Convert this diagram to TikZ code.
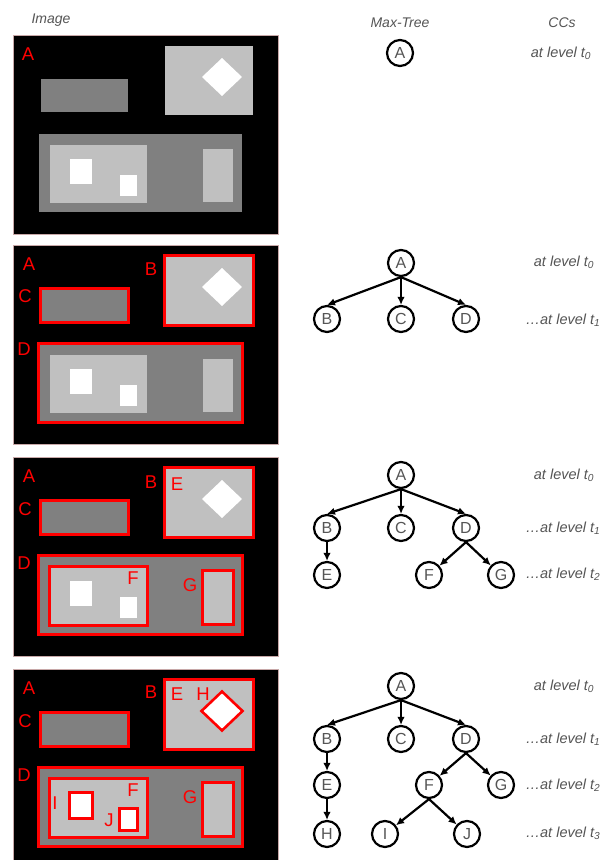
\documentclass[tikz,border=0pt]{standalone}
\usepackage{fontspec}
\setmainfont{Liberation Sans}
\usetikzlibrary{arrows.meta}
\definecolor{dgray}{HTML}{808080}
\definecolor{lgray}{HTML}{C0C0C0}
\definecolor{txtgray}{HTML}{555555}
\definecolor{framecol}{HTML}{C8A8A8}
\definecolor{cred}{HTML}{FF0000}
\tikzset{
 panel/.style={fill=black, draw=framecol, line width=0.8pt},
 dg/.style={fill=dgray},
 lg/.style={fill=lgray},
 wh/.style={fill=white},
 redline/.style={draw=cred, line width=2.6pt},
 plabel/.style={text=cred, font=\fontsize{18.5}{18.5}\selectfont, inner sep=0pt},
 tnode/.style={circle, draw=black, line width=2.2pt, minimum size=26pt, inner sep=0pt, text=txtgray, font=\fontsize{16}{16}\selectfont, fill=white},
 edge/.style={-{Latex[length=8pt,width=7.5pt]}, line width=2.2pt},
 header/.style={text=txtgray, font=\fontsize{14}{14}\selectfont\itshape, inner sep=0pt},
 levellab/.style={text=txtgray, font=\fontsize{14.5}{14.5}\selectfont\itshape, inner sep=0pt},
}
\newcommand{\baseimage}{%
 \draw[panel] (13.5,0) rectangle (278.5,199);
 \fill[dg] (41,44) rectangle (128,77);
 \fill[lg] (165,11) rectangle (253,80);
 \fill[wh] (222,23) -- (242,42) -- (222,61) -- (202,42) -- cycle;
 \fill[dg] (39,99) rectangle (242,177);
 \fill[lg] (50,110) rectangle (147,168);
 \fill[wh] (70,124) rectangle (92,149);
 \fill[wh] (120,140) rectangle (137,161);
 \fill[lg] (203,114) rectangle (233,167);
}
\begin{document}
\begin{tikzpicture}[x=1pt,y=-1pt]
\useasboundingbox (0,0) rectangle (608,860);
\fill[white] (0,0) rectangle (608,860);

% headers
\node[header] (hImage) at (51,20) {Image};
\node[header] (hTree) at (400,23) {Max-Tree};
\node[header] (hCC) at (562,23) {CCs};

% ---------- panel 1 ----------
\begin{scope}[shift={(0,35)}]
 \baseimage
 \node[plabel] (pA1) at (28,19) {A};
\end{scope}
\node[tnode] (A1) at (400,53) {A};
\node[levellab] (l10) at (561,53) {at level t\textsubscript{0}};

% ---------- panel 2 ----------
\begin{scope}[shift={(0,245)}]
 \baseimage
 \draw[redline] (40.5,43.5) rectangle (128.5,77.5);
 \draw[redline] (164.5,10.5) rectangle (253.5,80.5);
 \draw[redline] (38.5,98.5) rectangle (242.5,177.5);
 \node[plabel] (pA2) at (29,19) {A};
 \node[plabel] (pB2) at (151,24) {B};
 \node[plabel] (pC2) at (25,51) {C};
 \node[plabel] (pD2) at (24,104) {D};
\end{scope}
\node[tnode] (A2) at (401,263) {A};
\node[tnode] (B2) at (327,319) {B};
\node[tnode] (C2) at (401,319) {C};
\node[tnode] (D2) at (466,319) {D};
\draw[edge] (A2.south) -- (B2.north);
\draw[edge] (A2.south) -- (C2.north);
\draw[edge] (A2.south) -- (D2.north);
\node[levellab] (l20) at (564,262) {at level t\textsubscript{0}};
\node[levellab] (l21) at (563,320) {…at level t\textsubscript{1}};

% ---------- panel 3 ----------
\begin{scope}[shift={(0,457)}]
 \baseimage
 \draw[redline] (40.5,43.5) rectangle (128.5,77.5);
 \draw[redline] (164.5,10.5) rectangle (253.5,80.5);
 \draw[redline] (38.5,98.5) rectangle (242.5,177.5);
 \draw[redline] (49.5,109.5) rectangle (147.5,168.5);
 \draw[redline] (202.5,113.5) rectangle (233.5,167.5);
 \node[plabel] (pA3) at (29,19) {A};
 \node[plabel] (pB3) at (151,25) {B};
 \node[plabel] (pE3) at (177,27) {E};
 \node[plabel] (pC3) at (25,52) {C};
 \node[plabel] (pD3) at (24,106) {D};
 \node[plabel] (pF3) at (133,121) {F};
 \node[plabel] (pG3) at (190,128) {G};
\end{scope}
\node[tnode] (A3) at (401,475) {A};
\node[tnode] (B3) at (327,528) {B};
\node[tnode] (C3) at (401,528) {C};
\node[tnode] (D3) at (466,528) {D};
\node[tnode] (E3) at (327,575) {E};
\node[tnode] (F3) at (429,575) {F};
\node[tnode] (G3) at (501,575) {G};
\draw[edge] (A3.south) -- (B3.north);
\draw[edge] (A3.south) -- (C3.north);
\draw[edge] (A3.south) -- (D3.north);
\draw[edge] (B3.south) -- (E3.north);
\draw[edge] (D3.south) -- (F3);
\draw[edge] (D3.south) -- (G3);
\node[levellab] (l30) at (564,475) {at level t\textsubscript{0}};
\node[levellab] (l31) at (563,528) {…at level t\textsubscript{1}};
\node[levellab] (l32) at (563,574) {…at level t\textsubscript{2}};

% ---------- panel 4 ----------
\begin{scope}
\clip (0,0) rectangle (608,860);
\begin{scope}[shift={(0,669)}]
 \baseimage
 \draw[redline] (40.5,43.5) rectangle (128.5,77.5);
 \draw[redline] (164.5,10.5) rectangle (253.5,80.5);
 \draw[redline] (38.5,98.5) rectangle (242.5,177.5);
 \draw[redline] (49.5,109.5) rectangle (147.5,168.5);
 \draw[redline] (202.5,113.5) rectangle (233.5,167.5);
 \draw[redline] (222,22.5) -- (242.5,42) -- (222,61.5) -- (201.5,42) -- cycle;
 \draw[redline] (69.5,123.5) rectangle (92.5,149.5);
 \draw[redline] (119.5,139.5) rectangle (137.5,161.5);
 \node[plabel] (pA4) at (29,19) {A};
 \node[plabel] (pB4) at (151,23) {B};
 \node[plabel] (pE4) at (177,25) {E};
 \node[plabel] (pH4) at (203,25) {H};
 \node[plabel] (pC4) at (25,52) {C};
 \node[plabel] (pD4) at (24,106) {D};
 \node[plabel] (pF4) at (133,121) {F};
 \node[plabel] (pG4) at (190,128) {G};
 \node[plabel] (pI4) at (55,134) {I};
 \node[plabel] (pJ4) at (109,151) {J};
\end{scope}
\end{scope}
\node[tnode] (A4) at (401,686) {A};
\node[tnode] (B4) at (327,739) {B};
\node[tnode] (C4) at (401,739) {C};
\node[tnode] (D4) at (466,739) {D};
\node[tnode] (E4) at (327,785) {E};
\node[tnode] (F4) at (429,785) {F};
\node[tnode] (G4) at (501,785) {G};
\node[tnode] (H4) at (327,834) {H};
\node[tnode] (I4) at (385,834) {I};
\node[tnode] (J4) at (467,834) {J};
\draw[edge] (A4.south) -- (B4.north);
\draw[edge] (A4.south) -- (C4.north);
\draw[edge] (A4.south) -- (D4.north);
\draw[edge] (B4.south) -- (E4.north);
\draw[edge] (D4.south) -- (F4);
\draw[edge] (D4.south) -- (G4);
\draw[edge] (E4.south) -- (H4.north);
\draw[edge] (F4.south) -- (I4);
\draw[edge] (F4.south) -- (J4);
\node[levellab] (l40) at (564,686) {at level t\textsubscript{0}};
\node[levellab] (l41) at (563,739) {…at level t\textsubscript{1}};
\node[levellab] (l42) at (563,785) {…at level t\textsubscript{2}};
\node[levellab] (l43) at (563,833) {…at level t\textsubscript{3}};
\end{tikzpicture}
\end{document}
